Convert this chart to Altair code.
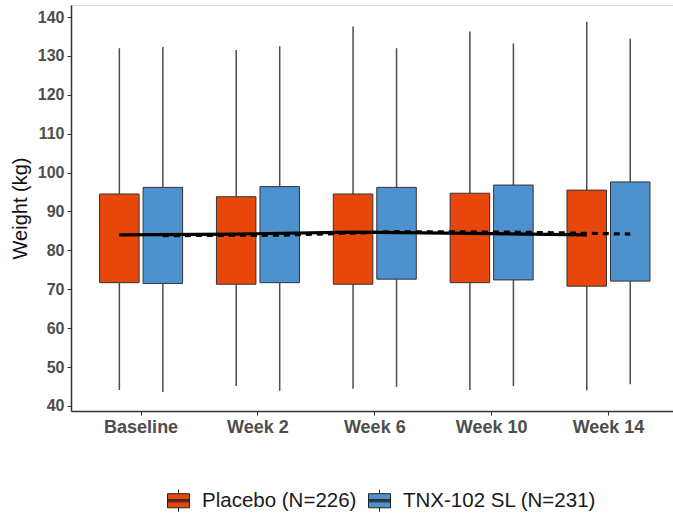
import altair as alt
import pandas as pd

# Visits on the x axis and the two treatment arms
weeks = ["Baseline", "Week 2", "Week 6", "Week 10", "Week 14"]
groups = ["Placebo (N=226)", "TNX-102 SL (N=231)"]
colors = ["#E8470C", "#4D91CF"]

# Box-plot summaries of body weight (kg) per visit
placebo_lo = [44.1, 45.1, 44.4, 44.1, 44.0]
placebo_q1 = [71.7, 71.3, 71.3, 71.7, 70.8]
placebo_q3 = [94.5, 93.8, 94.5, 94.7, 95.5]
placebo_hi = [132.0, 131.5, 137.6, 136.3, 138.8]
placebo_mean = [84.0, 84.2, 84.7, 84.4, 84.0]

tnx_lo = [43.6, 43.9, 44.9, 45.1, 45.6]
tnx_q1 = [71.5, 71.7, 72.6, 72.4, 72.1]
tnx_q3 = [96.2, 96.4, 96.2, 96.8, 97.6]
tnx_hi = [132.3, 132.5, 132.0, 133.2, 134.4]
tnx_mean = [83.8, 83.9, 84.8, 84.7, 84.2]

series = [
    (groups[0], placebo_lo, placebo_q1, placebo_q3, placebo_hi, placebo_mean),
    (groups[1], tnx_lo, tnx_q1, tnx_q3, tnx_hi, tnx_mean),
]
rows = []
for name, lo, q1, q3, hi, mean in series:
    for i, w in enumerate(weeks):
        rows.append({"week": w, "group": name, "lo": lo[i], "q1": q1[i],
                     "q3": q3[i], "hi": hi[i], "mean": mean[i]})
df = pd.DataFrame(rows)

FONT = "Liberation Sans"

x_enc = alt.X(
    "week:N",
    sort=weeks,
    title=None,
    scale=alt.Scale(range=[0, 607.6], paddingInner=0, paddingOuter=0.1),
    axis=alt.Axis(
        labelAngle=0, labelFontSize=18, labelFontWeight="bold", labelColor="#4d4d4d",
        labelFont=FONT, labelPadding=3, tickSize=4, tickColor="#333333",
        domainColor="#333333", domainWidth=1.5, grid=False,
    ),
)
xoff_enc = alt.XOffset("group:N", sort=groups,
                       scale=alt.Scale(paddingInner=0.092, paddingOuter=0.389))
y_scale = alt.Scale(domain=[38.7, 143.1], nice=False, zero=False)

base = alt.Chart(df)

whisk_hi = base.mark_rule(color="#4d4d4d", strokeWidth=1.5).encode(
    x=x_enc, xOffset=xoff_enc,
    y=alt.Y("q3:Q", scale=y_scale, title="Weight (kg)",
            axis=alt.Axis(values=list(range(40, 141, 10)), labelFontSize=16,
                          labelFontWeight="bold", labelColor="#4d4d4d", labelFont=FONT,
                          labelPadding=3, tickSize=4, tickColor="#333333",
                          domainColor="#333333", domainWidth=1.5, grid=False,
                          titleFont=FONT, titleFontSize=20, titleFontWeight="normal",
                          titleColor="#111111", titlePadding=7)),
    y2="hi:Q",
)
whisk_lo = base.mark_rule(color="#4d4d4d", strokeWidth=1.5).encode(
    x=x_enc, xOffset=xoff_enc, y=alt.Y("lo:Q", scale=y_scale), y2="q1:Q",
)

# Legend key: a small box with whiskers and a bar through the middle
legend_symbol = ("M-1,-0.64H1V0.64H-1Z M0,-0.64V-1 M0,0.64V1 "
                 "M-1,-0.1H1 M-1,0H1 M-1,0.1H1")

boxes = base.mark_bar(stroke="#333333", strokeWidth=1, opacity=1).encode(
    x=x_enc, xOffset=xoff_enc,
    y=alt.Y("q1:Q", scale=y_scale), y2="q3:Q",
    color=alt.Color(
        "group:N", sort=groups,
        scale=alt.Scale(domain=groups, range=colors),
        legend=alt.Legend(
            title=None, orient="none", direction="horizontal",
            legendX=96, legendY=484, padding=0,
            symbolType=legend_symbol, symbolSize=484,
            symbolStrokeColor="#222222", symbolStrokeWidth=1, symbolOpacity=1,
            labelFont=FONT, labelFontSize=20.5, labelColor="#1a1a1a",
            labelOffset=12, columnPadding=9, labelLimit=0,
        ),
    ),
)

mean_placebo = base.transform_filter(alt.datum.group == groups[0]).mark_line(
    color="black", strokeWidth=3.2
).encode(x=x_enc, xOffset=xoff_enc, y=alt.Y("mean:Q", scale=y_scale))

mean_tnx = base.transform_filter(alt.datum.group == groups[1]).mark_line(
    color="black", strokeWidth=3.2, strokeDash=[6, 5]
).encode(x=x_enc, xOffset=xoff_enc, y=alt.Y("mean:Q", scale=y_scale))

chart = alt.layer(whisk_hi, whisk_lo, boxes, mean_placebo, mean_tnx).properties(
    width=602, height=406,
    padding={"left": 71, "top": 5, "right": 0, "bottom": 107},
    autosize=alt.AutoSizeParams(type="none"),
).configure_view(stroke=None).configure(background="white")

chart.save("out.html", embed_options={"renderer": "svg", "actions": False})
